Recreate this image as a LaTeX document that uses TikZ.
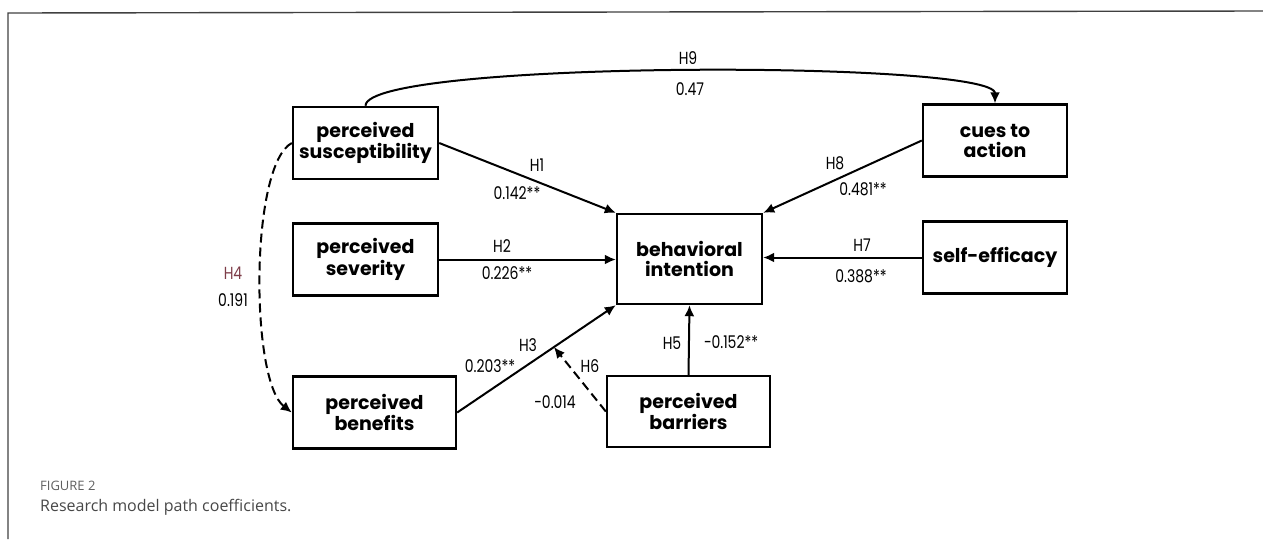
\documentclass[tikz,border=0pt]{standalone}
\usepackage{fontspec}
\setmainfont{Poppins}
\newfontfamily\labfont{Poppins}[FakeStretch=0.8]
\newfontfamily\capfont{Open Sans}
\usetikzlibrary{arrows.meta}
\definecolor{hfour}{RGB}{125,60,72}
\definecolor{capgray}{RGB}{95,95,95}
\begin{document}
\begin{tikzpicture}[x=1pt,y=-1pt,
  box/.style={draw,line width=2.4pt,minimum height=72pt,align=center,
    font=\fontsize{19}{20}\selectfont\bfseries,inner sep=0pt},
  con/.style={line width=2pt,-{Latex[length=11pt,width=10pt]}},
  dcon/.style={con,dash pattern=on 9pt off 5pt},
  lab/.style={font=\labfont\fontsize{17.5}{19}\selectfont,inner sep=0pt}]
\useasboundingbox (0,0) rectangle (1263,539);
\draw[line width=1.4pt,black!75] (1263,11) -- (8,13) -- (8,539);
% nodes
\node[box,minimum width=145pt] (sus) at (365.5,143) {perceived\\susceptibility};
\node[box,minimum width=145pt] (sev) at (365.5,259.5) {perceived\\severity};
\node[box,minimum width=163pt] (ben) at (374.5,412.5) {perceived\\benefits};
\node[box,minimum width=145pt,minimum height=90pt] (bi) at (689.5,259) {behavioral\\intention};
\node[box,minimum width=144pt] (cues) at (995,140.5) {cues to\\action};
\node[box,minimum width=144pt] (self) at (995,257.5) {self-efficacy};
\node[box,minimum width=163pt,minimum height=71pt] (bar) at (688.5,411.5) {perceived\\barriers};
% connectors
\draw[con] (sus.north) .. controls (366,60) and (995,60) .. (cues.north);
\draw[con] (sus.east) -- (bi.north west);
\draw[con] (sev.east) -- (bi.west |- sev.east);
\draw[con] (ben.east) -- (bi.south west) coordinate[pos=0.61] (h3m);
\draw[con] (bar.north) -- (bi.south);
\draw[con] (self.west) -- (bi.east |- self.west);
\draw[con] (cues.west) -- (bi.north east);
\draw[dcon] (bar.west) -- (h3m);
\draw[dcon] (sus.west) .. controls (250,165) and (250,380) .. (ben.west);
% labels
\node[lab] (l9) at (688,58) {H9};
\node[lab] (v9) at (690,89) {0.47};
\node[lab] (l1) at (537,165) {H1};
\node[lab] (v1) at (517,193) {0.142**};
\node[lab] (l2) at (502,246) {H2};
\node[lab] (v2) at (507,273) {0.226**};
\node[lab] (l3) at (528,345) {H3};
\node[lab] (v3) at (490,366) {0.203**};
\node[lab] (l6) at (590,366) {H6};
\node[lab] (v6) at (555,402) {−0.014};
\node[lab,text=hfour] (l4) at (233,273) {H4};
\node[lab] (v4) at (233,300) {0.191};
\node[lab] (l5) at (672,343) {H5};
\node[lab] (v5) at (731,342) {−0.152**};
\node[lab] (l7) at (862,245) {H7};
\node[lab] (v7) at (861,276) {0.388**};
\node[lab] (l8) at (835,163) {H8};
\node[lab] (v8) at (863,189) {0.481**};
% caption
\node[anchor=west,inner sep=0pt,text=capgray,font=\capfont\fontsize{13}{15}\selectfont] (fig) at (40,486) {FIGURE 2};
\node[anchor=west,inner sep=0pt,text=black!72,font=\capfont\fontsize{16}{19}\selectfont] (cap) at (40,507) {Research model path coefficients.};
\end{tikzpicture}
\end{document}
